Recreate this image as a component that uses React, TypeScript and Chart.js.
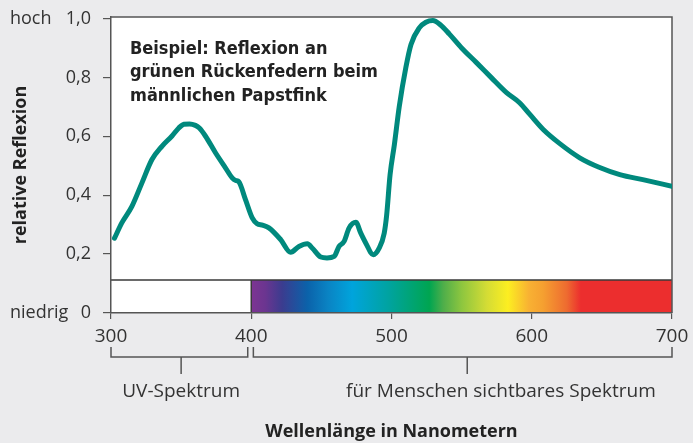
import React, { useEffect, useRef } from "react";
import { Chart, registerables } from "chart.js";

Chart.register(...registerables);

// ---------- data ----------
const wavelengths = [
  302.5, 307.7, 314.9, 322, 329.2, 336.3, 343.5, 348.3, 352, 356, 360.2, 363, 367.3, 374.5, 381.6, 386.4, 389,
  391.1, 395.9, 400.7, 404.2, 408, 412.6, 421, 428.1, 434, 440, 443.6, 449.6, 454, 459.1, 462.6, 466.2, 469.8,
  474.6, 478.1, 481.7, 487, 491.2, 494.8, 496.5, 499, 502, 505.5, 510.3, 513.9, 519.8, 524.5, 529.5, 535, 541.3,
  550, 560.4, 571, 581.8, 591.3, 598.5, 608, 620, 634.2, 648, 662.8, 680, 700,
];
const reflection = [
  0.254, 0.306, 0.362, 0.441, 0.521, 0.566, 0.601, 0.628, 0.641, 0.642, 0.637, 0.628, 0.601, 0.544, 0.493, 0.459,
  0.45, 0.446, 0.385, 0.323, 0.303, 0.298, 0.289, 0.249, 0.206, 0.226, 0.235, 0.22, 0.19, 0.187, 0.192, 0.226,
  0.243, 0.289, 0.308, 0.271, 0.237, 0.198, 0.22, 0.271, 0.33, 0.47, 0.57, 0.7, 0.835, 0.912, 0.968, 0.987, 0.993,
  0.978, 0.947, 0.9, 0.851, 0.8, 0.749, 0.714, 0.675, 0.624, 0.575, 0.527, 0.495, 0.47, 0.452, 0.43,
];
const xTicks = [300, 400, 500, 600, 700];
const yTicks = [0, 0.2, 0.4, 0.6, 0.8, 1.0];
const yMax = 1.005;
const spectrumTop = 0.112;
const spectrumStops = [400, 410, 422, 440, 455, 472, 498, 527, 537, 550, 568, 583, 598, 608, 625, 635, 700];
const spectrumColors = [
  "#7d3592", "#6b3590", "#3b3c8f", "#0b62aa", "#0a84c4", "#00a4dc", "#00a3a0", "#00a551", "#4fae4a",
  "#8dc63f", "#d4dc35", "#fcee21", "#f8b133", "#f5a030", "#ee6b30", "#ec2e2e", "#ec2e2e",
];
const rangeLabels = ["UV-Spektrum", "für Menschen sichtbares Spektrum"];
const rangeStarts = [300, 401.5];
const rangeEnds = [397.5, 700];
const rangeCenters = [350, 554];
const rangeLabelCenters = [350, 578];
const noteLines = ["Beispiel: Reflexion an", "grünen Rückenfedern beim", "männlichen Papstfink"];
const yHigh = "hoch";
const yLow = "niedrig";
const yTitle = "relative Reflexion";
const xTitle = "Wellenlänge in Nanometern";

// ---------- style ----------
const W = 693;
const H = 443;
const BG = "#ebebed";
const LINE = "#00897d";
const TEXT = "#333333";
const AXIS = "#555555";
const FONT = '"Open Sans", "Noto Sans", sans-serif';
const NARROW = '"Liberation Sans Narrow", "DejaVu Sans Condensed", "Roboto Condensed", Roboto, sans-serif';

const fmt = (v: number) => (v === 0 ? "0" : v.toFixed(1).replace(".", ","));

const decor = {
  id: "decor",
  beforeDraw(chart: any) {
    const { ctx, chartArea: a, scales } = chart;
    const xs = scales.x;
    const ys = scales.y;
    ctx.save();
    ctx.fillStyle = BG;
    ctx.fillRect(0, 0, chart.width, chart.height);
    ctx.fillStyle = "#ffffff";
    ctx.fillRect(a.left, a.top, a.right - a.left, a.bottom - a.top);
    // spectrum bar
    const x0 = xs.getPixelForValue(spectrumStops[0]);
    const x1 = xs.getPixelForValue(spectrumStops[spectrumStops.length - 1]);
    const y0 = ys.getPixelForValue(0);
    const y1 = ys.getPixelForValue(spectrumTop);
    const g = ctx.createLinearGradient(x0, 0, x1, 0);
    const span = spectrumStops[spectrumStops.length - 1] - spectrumStops[0];
    spectrumStops.forEach((s, i) => g.addColorStop((s - spectrumStops[0]) / span, spectrumColors[i]));
    ctx.fillStyle = g;
    ctx.fillRect(x0, y1, x1 - x0, y0 - y1);
    ctx.strokeStyle = "#3a3a3a";
    ctx.lineWidth = 1.5;
    ctx.beginPath();
    ctx.moveTo(a.left, y1);
    ctx.lineTo(a.right, y1);
    ctx.moveTo(x0, y1);
    ctx.lineTo(x0, y0);
    ctx.stroke();
    // top / right border
    ctx.strokeStyle = AXIS;
    ctx.beginPath();
    ctx.moveTo(a.left, a.top);
    ctx.lineTo(a.right, a.top);
    ctx.lineTo(a.right, a.bottom);
    ctx.stroke();
    ctx.restore();
  },
  afterDraw(chart: any) {
    const { ctx, chartArea: a, scales } = chart;
    const xs = scales.x;
    const ys = scales.y;
    ctx.save();
    ctx.fillStyle = TEXT;
    ctx.textBaseline = "middle";
    ctx.textAlign = "left";
    ctx.font = `18px ${FONT}`;
    ctx.fillText(yHigh, 10, ys.getPixelForValue(1));
    ctx.fillText(yLow, 10, ys.getPixelForValue(0));

    // note
    ctx.font = `bold 18px ${NARROW}`;
    ctx.fillStyle = "#222222";
    ctx.textBaseline = "alphabetic";
    noteLines.forEach((t, i) => ctx.fillText(t, a.left + 19, a.top + 37 + i * 23.3));

    // y title
    ctx.fillStyle = "#222222";
    ctx.font = `bold 18px ${FONT}`;
    ctx.textAlign = "center";
    ctx.textBaseline = "middle";
    ctx.save();
    ctx.translate(21, (a.top + a.bottom) / 2);
    ctx.rotate(-Math.PI / 2);
    ctx.fillText(yTitle, 0, 0);
    ctx.restore();
    // x title
    ctx.fillText(xTitle, (a.left + a.right) / 2, 432);

    // brackets
    const b = a.bottom;
    ctx.strokeStyle = AXIS;
    ctx.lineWidth = 1.5;
    rangeLabels.forEach((lab, i) => {
      const xa = xs.getPixelForValue(rangeStarts[i]);
      const xb = xs.getPixelForValue(rangeEnds[i]);
      const xc = xs.getPixelForValue(rangeCenters[i]);
      ctx.beginPath();
      ctx.moveTo(xa, b + 34);
      ctx.lineTo(xa, b + 44);
      ctx.lineTo(xb, b + 44);
      ctx.lineTo(xb, b + 34);
      ctx.moveTo(xc, b + 44);
      ctx.lineTo(xc, b + 61);
      ctx.stroke();
      ctx.fillStyle = TEXT;
      ctx.font = `19px ${FONT}`;
      ctx.textAlign = "center";
      ctx.fillText(lab, xs.getPixelForValue(rangeLabelCenters[i]), b + 79);
    });
    ctx.restore();
  },
};

export default function App() {
  const ref = useRef<HTMLCanvasElement>(null);
  useEffect(() => {
    document.body.style.margin = "0";
    const canvas = ref.current!;
    const chart = new Chart(canvas, {
      type: "line",
      data: {
        datasets: [
          {
            data: wavelengths.map((x, i) => ({ x, y: reflection[i] })),
            borderColor: LINE,
            borderWidth: 5,
            pointRadius: 0,
            cubicInterpolationMode: "monotone",
            fill: false,
            borderCapStyle: "round",
            borderJoinStyle: "round",
          } as any,
        ],
      },
      options: {
        animation: false,
        responsive: false,
        devicePixelRatio: 1,
        layout: { padding: { left: 0, right: 21, top: 17, bottom: 0 } },
        plugins: { legend: { display: false }, tooltip: { enabled: false } },
        scales: {
          x: {
            type: "linear",
            min: 300,
            max: 700,
            afterBuildTicks: (s: any) => {
              s.ticks = xTicks.map((v) => ({ value: v }));
            },
            afterFit: (s: any) => {
              s.height = 130;
              s.paddingLeft = 0;
              s.paddingRight = 0;
            },
            ticks: { font: { family: FONT, size: 19 }, color: TEXT, padding: 6, callback: (v: any) => String(v) },
            grid: { drawOnChartArea: false, tickLength: 6, color: AXIS, lineWidth: 1.2 },
            border: { color: AXIS, width: 1.5 },
          },
          y: {
            min: 0,
            max: yMax,
            afterBuildTicks: (s: any) => {
              s.ticks = yTicks.map((v) => ({ value: v }));
            },
            afterFit: (s: any) => {
              s.width = 111;
              s.paddingTop = 0;
              s.paddingBottom = 0;
            },
            ticks: { font: { family: FONT, size: 18 }, color: TEXT, padding: 12, callback: (v: any) => fmt(Number(v)) },
            grid: { drawOnChartArea: false, tickLength: 8, color: AXIS, lineWidth: 1.2 },
            border: { color: AXIS, width: 1.5 },
          },
        },
      },
      plugins: [decor],
    });
    return () => chart.destroy();
  }, []);
  return (
    <div style={{ position: "absolute", left: 0, top: 0, width: W, height: H, background: BG }}>
      <canvas ref={ref} width={W} height={H} style={{ display: "block" }} />
    </div>
  );
}
